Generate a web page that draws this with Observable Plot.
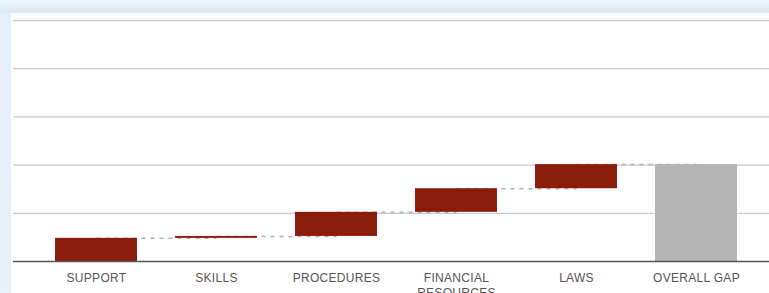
<!DOCTYPE html>
<html><head><meta charset="utf-8">
<script src="https://cdn.jsdelivr.net/npm/d3@7"></script>
<script src="https://cdn.jsdelivr.net/npm/@observablehq/plot@0.6"></script>
<style>
html,body{margin:0;padding:0;width:769px;height:293px;overflow:hidden;}
body{background:linear-gradient(to bottom,#eef7fd 0px,#dae8f3 13px,#e3eff9 13px,#e6f1fa 293px);}
#panel{position:absolute;left:11px;top:13px;width:758px;height:280px;background:#fff;}
</style></head><body><div id="panel"></div>
<script>
const categories = ["SUPPORT", "SKILLS", "PROCEDURES", "FINANCIAL RESOURCES", "LAWS", "OVERALL GAP"];
const tickLabels = ["SUPPORT", "SKILLS", "PROCEDURES", "FINANCIAL\nRESOURCES", "LAWS", "OVERALL GAP"];
const steps = [0.48, 0.04, 0.5, 0.49, 0.5];
const overallGap = 2.01;
const gridValues = [1, 2, 3, 4, 5];

const rows = [];
let cum = 0;
steps.forEach((s, i) => {
  rows.push({cat: categories[i], start: cum, end: cum + s, kind: "step"});
  cum += s;
});
rows.push({cat: categories[5], start: 0, end: overallGap, kind: "total"});
const connectors = rows.slice(0, -1).map((r, i) => ({from: r.cat, to: rows[i + 1].cat, level: r.end}));

const chart = Plot.plot({
  width: 758,
  height: 280,
  marginTop: 7,
  marginBottom: 32,
  marginLeft: 2,
  marginRight: 0,
  style: {fontFamily: "'Liberation Sans', Arial, sans-serif", background: "transparent", letterSpacing: "0.3px"},
  x: {domain: categories, range: [25, 745], paddingInner: 0.32, paddingOuter: 0.16, axis: null},
  y: {domain: [0, 5], axis: null},
  color: {domain: ["step", "total"], range: ["#8b1c0c", "#b4b4b4"]},
  marks: [
    Plot.ruleY(gridValues, {stroke: "#c9c9c9", strokeWidth: 1.3}),
    Plot.link(connectors, {x1: "from", x2: "to", y1: "level", y2: "level", stroke: "#b0b0b0", strokeWidth: 1.5, strokeDasharray: "4,5"}),
    Plot.barY(rows, {x: "cat", y1: "start", y2: "end", fill: "kind"}),
    Plot.ruleY([0], {stroke: "#555", strokeWidth: 1.6}),
    Plot.axisX({tickSize: 0, tickPadding: 10, fontSize: 12, fill: "#555", lineHeight: 1.25,
      tickFormat: d => tickLabels[categories.indexOf(d)]})
  ]
});
document.getElementById("panel").appendChild(chart);
</script>
</body></html>
